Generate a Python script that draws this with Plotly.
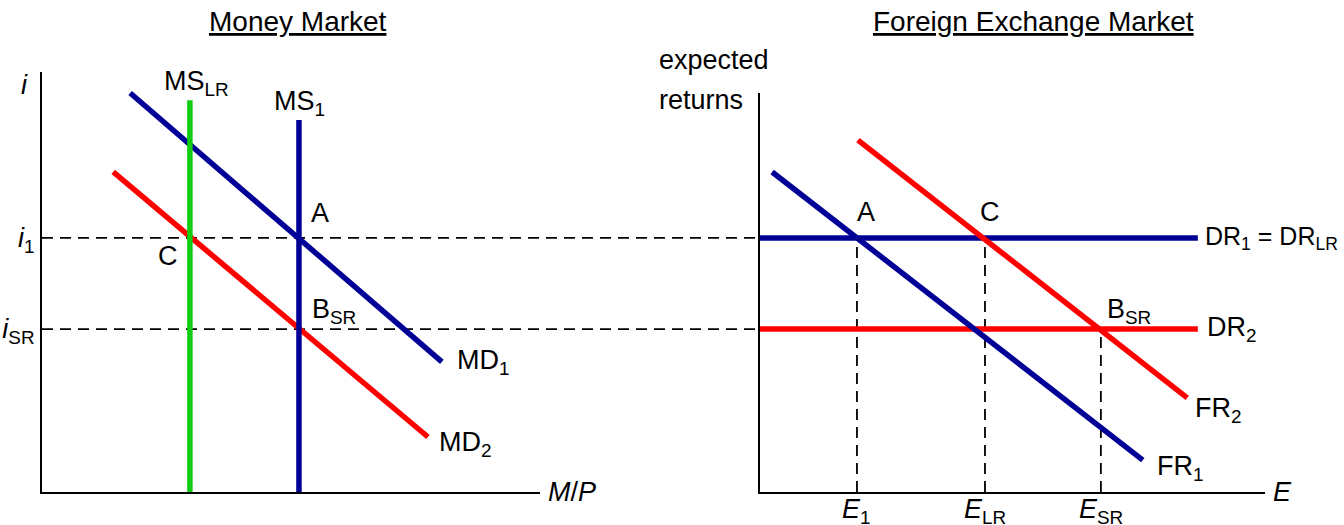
import plotly.graph_objects as go

# ---------------- data ----------------
# Money market (left panel): x = real money M/P, y = interest rate i
i_1 = 6.05
i_SR = 3.88
ms_lr_x = 2.97
ms_1_x = 5.16
ms_lr_top = 9.33
ms_1_top = 8.86
md1_x = [1.77, 8.03]
md1_y = [9.5, 3.1]
md2_x = [1.43, 7.75]
md2_y = [7.62, 1.31]

# Foreign exchange market (right panel): x = exchange rate E, y = expected returns
E_1 = 1.92
E_LR = 4.455
E_SR = 6.75
dr_end = 8.67
fr1_x = [0.24, 7.58]
fr1_y = [7.62, 0.76]
fr2_x = [1.94, 8.46]
fr2_y = [8.38, 2.24]

left_ticks = ["<i>i</i><sub>1</sub>", "<i>i</i><sub>SR</sub>"]
right_ticks = ["<i>E</i><sub>1</sub>", "<i>E</i><sub>LR</sub>", "<i>E</i><sub>SR</sub>"]

# ---------------- style ----------------
NAVY = "#000096"
RED = "#FF0000"
GREEN = "#12CC12"
FONT = "Liberation Sans, Arial, sans-serif"
FS = 27
LW = 5.5
W, H = 1344, 525

fig = go.Figure()

def line(x, y, color, xa="x", ya="y", width=LW, dash=None):
    fig.add_trace(go.Scatter(x=x, y=y, mode="lines", xaxis=xa, yaxis=ya,
                             line=dict(color=color, width=width, dash=dash),
                             showlegend=False, hoverinfo="skip"))

DASH = "11px,7px"
DW = 1.8
# dashed guides in FX panel
line([E_1, E_1], [0, i_1], "black", "x2", "y2", DW, DASH)
line([E_LR, E_LR], [0, i_1], "black", "x2", "y2", DW, DASH)
line([E_SR, E_SR], [0, i_SR], "black", "x2", "y2", DW, DASH)

# Money market curves
line(md1_x, md1_y, NAVY)
line(md2_x, md2_y, RED)
line([ms_lr_x, ms_lr_x], [0, ms_lr_top], GREEN)
line([ms_1_x, ms_1_x], [0, ms_1_top], NAVY)

# FX market curves
line([0, dr_end], [i_1, i_1], NAVY, "x2", "y2")
line([0, dr_end], [i_SR, i_SR], RED, "x2", "y2")
line(fr1_x, fr1_y, NAVY, "x2", "y2")
line(fr2_x, fr2_y, RED, "x2", "y2")

xdom1 = [42 / W, 540 / W]
xdom2 = [760 / W, 1265 / W]

# dashed horizontal guides spanning both panels
for yv in (i_1, i_SR):
    fig.add_shape(type="line", xref="paper", yref="y", x0=xdom1[0], x1=xdom2[0],
                  y0=yv, y1=yv, layer="below",
                  line=dict(color="black", width=DW, dash=DASH))

ax_common = dict(showgrid=False, zeroline=False, showline=True, linecolor="black",
                 linewidth=2, ticks="", fixedrange=True, automargin=False)

fig.update_layout(
    template="none",
    width=W, height=H,
    margin=dict(l=0, r=0, t=0, b=0),
    paper_bgcolor="white", plot_bgcolor="white",
    font=dict(family=FONT, size=FS, color="black"),
    xaxis=dict(domain=xdom1, range=[0, 10], anchor="y", showticklabels=False, **ax_common),
    yaxis=dict(domain=[33 / H, 453 / H], range=[0, 10], anchor="x",
               tickvals=[i_1, i_SR], ticktext=left_ticks, **ax_common),
    xaxis2=dict(domain=xdom2, range=[0, 10], anchor="y2", showticklabels=False, **ax_common),
    yaxis2=dict(domain=[33 / H, 432 / H], range=[0, 9.5], anchor="x2",
                showticklabels=False, **ax_common),
)

def lab(text, x, y, xa="x", ya="y", xanchor="left", yanchor="middle", size=FS,
        xshift=0, yshift=0):
    fig.add_annotation(text=text, x=x, y=y, xref=xa, yref=ya, showarrow=False,
                       xanchor=xanchor, yanchor=yanchor, font=dict(size=size),
                       xshift=xshift, yshift=yshift)

# titles
lab("<u>Money Market</u>", 298 / W, 1 - 22 / H, "paper", "paper", "center", size=FS + 1)
lab("<u>Foreign Exchange Market</u>", 1033 / W, 1 - 22 / H, "paper", "paper", "center", size=FS + 1)

# left panel labels
lab("<i>i</i>", 0, 9.7, xanchor="right", xshift=-12)
lab("MS<sub>LR</sub>", 3.11, 9.74, xanchor="center")
lab("MS<sub>1</sub>", 5.18, 9.26, xanchor="center")
lab("A", 5.58, 6.64, xanchor="center")
lab("C", 2.53, 5.62, xanchor="center")
lab("B<sub>SR</sub>", 5.38, 4.3)
lab("MD<sub>1</sub>", 8.29, 3.1)
lab("MD<sub>2</sub>", 7.93, 1.15)
lab("<i>M</i>/<i>P</i>", 10, 0, xshift=6)

# right panel labels
lab("expected", 657 / W, 1 - 60 / H, "paper", "paper")
lab("returns", 657 / W, 1 - 100 / H, "paper", "paper")
lab("A", 2.10, 6.67, "x2", "y2", "center")
lab("C", 4.55, 6.67, "x2", "y2", "center")
lab("B<sub>SR</sub>", 6.83, 4.3, "x2", "y2")
lab("DR<sub>1</sub> = DR<sub>LR</sub>", 8.77, i_1, "x2", "y2", size=25)
lab("DR<sub>2</sub>", 8.81, i_SR, "x2", "y2")
lab("FR<sub>2</sub>", 8.57, 1.95, "x2", "y2")
lab("FR<sub>1</sub>", 7.82, 0.57, "x2", "y2")
lab("<i>E</i>", 10, 0, "x2", "y2", xshift=6)
for ev, et in zip([E_1, E_LR, E_SR], right_ticks):
    lab(et, ev, 0, "x2", "y2", "center", "top", yshift=0)

fig.write_html("out.html", config={"displayModeBar": False},
               post_script="document.body.style.margin='0px';document.body.style.overflow='hidden';")
